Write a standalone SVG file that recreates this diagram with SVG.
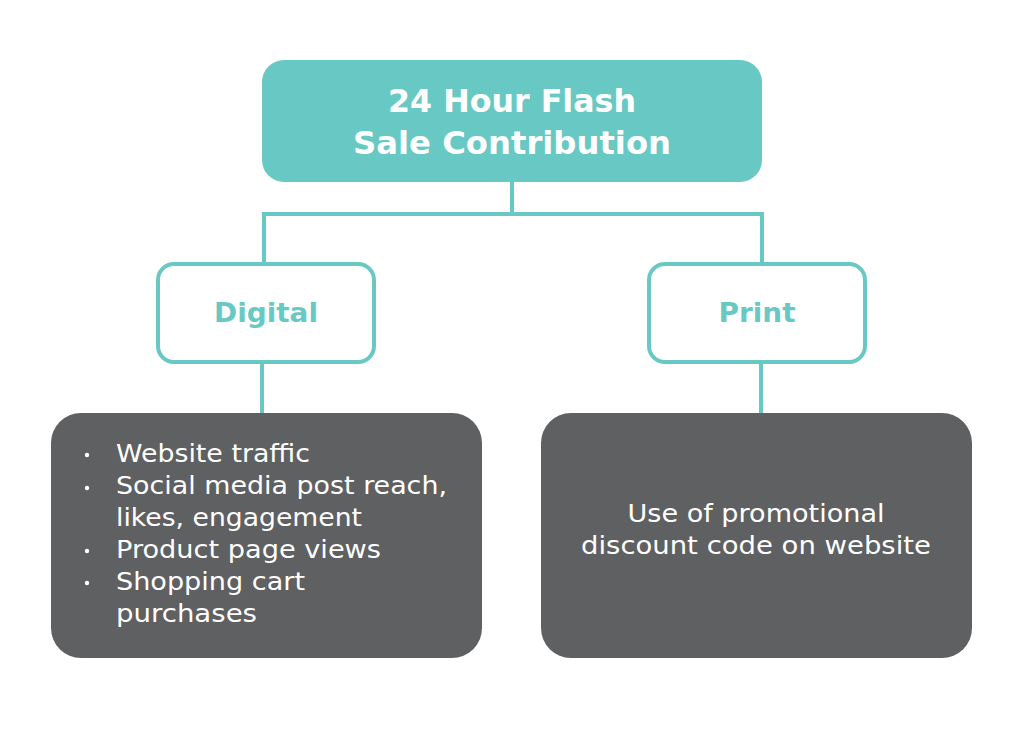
<svg xmlns="http://www.w3.org/2000/svg" width="1024" height="736" viewBox="0 0 1024 736">
<style>
.teal{fill:#68c9c4}
.outline{fill:#fff;stroke:#68c9c4;stroke-width:4}
.dark{fill:#5f6062}
.conn{fill:none;stroke:#68c9c4;stroke-width:4}
.title{font-family:"DejaVu Sans",sans-serif;font-weight:bold;font-size:32px;fill:#fff;text-anchor:middle}
.cat{font-family:"DejaVu Sans",sans-serif;font-weight:bold;font-size:27px;fill:#68c9c4;text-anchor:middle}
.body{font-family:"DejaVu Sans",sans-serif;font-size:25px;fill:#fff}
.bul{font-family:"DejaVu Sans",sans-serif;font-size:18px;fill:#fff}
</style>
<rect width="1024" height="736" fill="#fff"/>
<g id="connectors">
<path class="conn" d="M512 182 V214 M264 214 H762 M264 212 V263 M762 212 V263 M262 363 V413 M761 363 V413"/>
</g>
<g id="root">
<rect class="teal" x="262" y="60" width="500" height="122" rx="22"/>
<text class="title" x="512" y="112" textLength="248" lengthAdjust="spacingAndGlyphs">24 Hour Flash</text>
<text class="title" x="512" y="154" textLength="318" lengthAdjust="spacingAndGlyphs">Sale Contribution</text>
</g>
<g id="digital">
<rect class="outline" x="158" y="264" width="216" height="98" rx="16"/>
<text class="cat" x="266" y="322" textLength="104" lengthAdjust="spacingAndGlyphs">Digital</text>
</g>
<g id="print">
<rect class="outline" x="649" y="264" width="216" height="98" rx="16"/>
<text class="cat" x="757" y="322" textLength="77" lengthAdjust="spacingAndGlyphs">Print</text>
</g>
<g id="digital-details">
<rect class="dark" x="51" y="413" width="431" height="245" rx="30"/>
<g class="bul">
<circle cx="87" cy="455" r="2.2" fill="#fff"/>
<circle cx="87" cy="488" r="2.2" fill="#fff"/>
<circle cx="87" cy="551" r="2.2" fill="#fff"/>
<circle cx="87" cy="583" r="2.2" fill="#fff"/>
</g>
<text class="body" x="116" y="462" textLength="194" lengthAdjust="spacingAndGlyphs">Website traffic</text>
<text class="body" x="116" y="494" textLength="331" lengthAdjust="spacingAndGlyphs">Social media post reach,</text>
<text class="body" x="116" y="526" textLength="246" lengthAdjust="spacingAndGlyphs">likes, engagement</text>
<text class="body" x="116" y="558" textLength="265" lengthAdjust="spacingAndGlyphs">Product page views</text>
<text class="body" x="116" y="590" textLength="189" lengthAdjust="spacingAndGlyphs">Shopping cart</text>
<text class="body" x="116" y="622" textLength="141" lengthAdjust="spacingAndGlyphs">purchases</text>
</g>
<g id="print-details">
<rect class="dark" x="541" y="413" width="431" height="245" rx="30"/>
<text class="body" x="756" y="522" text-anchor="middle" textLength="257" lengthAdjust="spacingAndGlyphs">Use of promotional</text>
<text class="body" x="756" y="554" text-anchor="middle" textLength="350" lengthAdjust="spacingAndGlyphs">discount code on website</text>
</g>
</svg>
